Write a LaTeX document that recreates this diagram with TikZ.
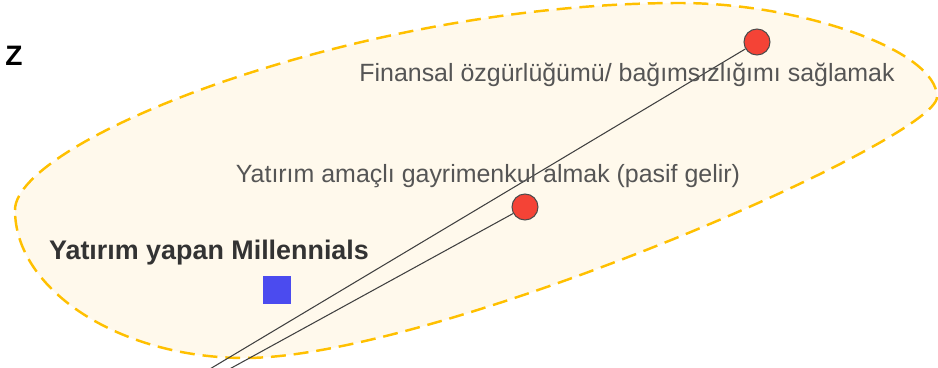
\documentclass[tikz,border=0pt]{standalone}
\usepackage{fontspec}
\setmainfont{Liberation Sans}
\usetikzlibrary{positioning}
\definecolor{zonefill}{RGB}{255,249,236}
\definecolor{zoneline}{RGB}{255,192,0}
\definecolor{dotred}{RGB}{244,67,54}
\definecolor{sqblue}{RGB}{75,75,239}
\definecolor{labelgray}{RGB}{85,85,85}

\begin{document}
\begin{tikzpicture}[x=0.02cm, y=-0.02cm,
    zone/.style={draw=zoneline, fill=zonefill, line width=1.4pt, dash pattern=on 8.5pt off 4.5pt},
    dot/.style={circle, draw=black!70, fill=dotred, minimum size=0.52cm, inner sep=0pt, line width=0.6pt},
    member/.style={rectangle, fill=sqblue, minimum size=0.56cm, inner sep=0pt},
    seg/.style={black!75, line width=0.6pt},
    lbl/.style={text=labelgray, font=\fontsize{14.2}{17}\selectfont, inner sep=0pt, anchor=base},
    grp/.style={text=black!80, font=\bfseries\fontsize{15.3}{18}\selectfont, inner sep=0pt, anchor=base}
  ]
    \clip (0,0) rectangle (938,368);
    % segment zone
    \draw[zone] (15,210) .. controls (15,140) and (360,3) .. (680,3)
      .. controls (800,3) and (937,50) .. (937,97)
      .. controls (937,140) and (435,358) .. (245,358)
      .. controls (120,358) and (15,290) .. cycle;
    \node[grp, text=black, font=\bfseries\fontsize{16}{18}\selectfont] (axis) at (14,66) {Z};
    \node[dot] (fin) at (757,42) {};
    \node[dot] (gyo) at (525,207) {};
    \coordinate (finend) at (158,400);
    \coordinate (gyoend) at (173,400);
    \draw[seg] (fin) -- (finend);
    \draw[seg] (gyo) -- (gyoend);
    \node[lbl] (finlbl) at (627,82) {Finansal özgürlüğümü/ bağımsızlığımı sağlamak};
    \node[lbl] (gyolbl) at (488,183) {Yatırım amaçlı gayrimenkul almak (pasif gelir)};
    \node[grp] (millen) at (209,260) {Yatırım yapan Millennials};
    \node[member] (sq) at (277,290) {};
  \end{tikzpicture}
\end{document}
